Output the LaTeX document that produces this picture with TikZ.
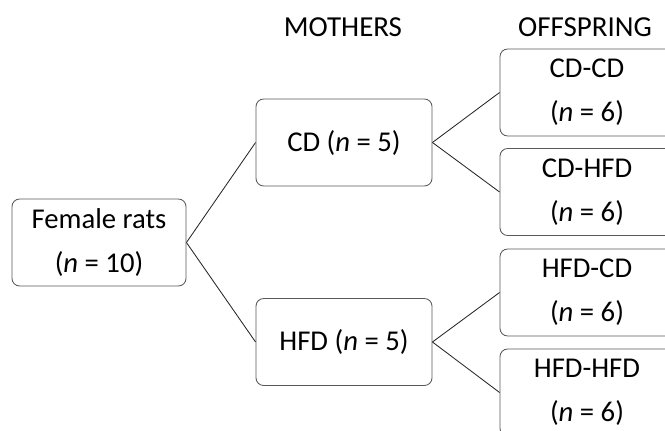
\documentclass[tikz,border=0pt]{standalone}
\usepackage{fontspec}
\setmainfont{Carlito}
\usepackage{tikz}

\begin{document}
\begin{tikzpicture}[x=0.025cm, y=0.025cm,
		group/.style={draw=black!65, line width=0.6pt, rounded corners=5.5pt, fill=white, align=center, inner sep=0pt, minimum width=4.4cm, minimum height=2.175cm, font=\fontsize{20.4}{31.5}\selectfont},
		head/.style={inner sep=0pt, font=\fontsize{20.6}{24}\selectfont},
		link/.style={draw=black!85, line width=0.6pt}]
				\useasboundingbox (0,0) rectangle (665,430);
				\clip (0,0) rectangle (665,430);
				% column titles
				\node[head] (mothers) at (343,403) {MOTHERS};
				\node[head] (offspring) at (585,403) {OFFSPRING};
				% boxes
				\node[group, minimum width=4.35cm] (female) at (99,187.5) {Female rats\\(\textit{n} = 10)};
				\node[group] (cd) at (344,287.5) {CD (\textit{n} = 5)};
				\node[group] (hfd) at (344,88) {HFD (\textit{n} = 5)};
				\node[group, minimum width=4.35cm] (cdcd) at (587,337.5) {CD-CD\\(\textit{n} = 6)};
				\node[group, minimum width=4.35cm] (cdhfd) at (587,238) {CD-HFD\\(\textit{n} = 6)};
				\node[group, minimum width=4.35cm] (hfdcd) at (587,137.5) {HFD-CD\\(\textit{n} = 6)};
				\node[group, minimum width=4.35cm] (hfdhfd) at (587,37.5) {HFD-HFD\\(\textit{n} = 6)};
				\foreach \a/\b in {female/cd, female/hfd, cd/cdcd, cd/cdhfd, hfd/hfdcd, hfd/hfdhfd} {
					\draw[link] (\a.east) -- (\b.west);
				}
			\end{tikzpicture}
\end{document}
